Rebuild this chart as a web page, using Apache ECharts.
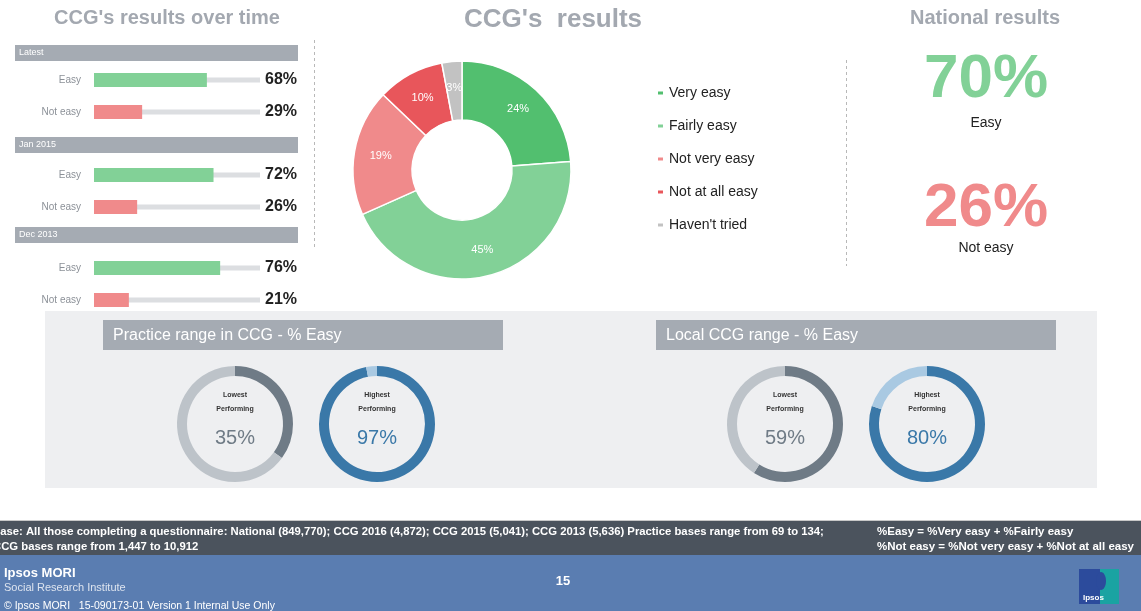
<!DOCTYPE html>
<html>
<head>
<meta charset="utf-8">
<script src="https://cdn.jsdelivr.net/npm/echarts@6/dist/echarts.min.js"></script>
<style>
  html, body { margin: 0; padding: 0; background: #fff; }
  #chart { width: 1141px; height: 611px; }
</style>
</head>
<body>
<div id="chart"></div>
<script>
// ---- data ----
const periods = ['Latest', 'Jan 2015', 'Dec 2013']
const rowLabels = ['Easy', 'Not easy']
const easyOverTime = [68, 72, 76]
const notEasyOverTime = [29, 26, 21]

const answerNames = ['Very easy', 'Fairly easy', 'Not very easy', 'Not at all easy', "Haven't tried"]
const answerValues = [24, 45, 19, 10, 3]

const nationalValues = [70, 26]
const nationalLabels = ['Easy', 'Not easy']

const rangeTitles = ['Practice range in CCG - % Easy', 'Local CCG range - % Easy']
const rangeLowest = [35, 59]
const rangeHighest = [97, 80]

// ---- styles ----
const FONT = 'Liberation Sans, Arial, sans-serif'
const GREEN = '#82d197'
const RED = '#f08a8b'
const answerColors = ['#52bf6f', '#82d197', '#f08a8b', '#e8565b', '#c2c2c2']
const HEADER_GREY = '#a5abb3'
const TITLE_GREY = '#a3a8b0'

const chart = echarts.init(document.getElementById('chart'))

// 左侧：各期结果条形图
const gridTops = [64, 159, 252]
const grids = []
const xAxes = []
const yAxes = []
const series = []

periods.forEach((p, i) => {
  const values = [easyOverTime[i], notEasyOverTime[i]]
  grids.push({ left: 94, width: 166, top: gridTops[i], height: 64 })
  xAxes.push({ gridIndex: i, type: 'value', min: 0, max: 100, show: false })
  yAxes.push({
    gridIndex: i, type: 'category', data: rowLabels, inverse: true,
    axisLine: { show: false }, axisTick: { show: false }, splitLine: { show: false },
    axisLabel: { color: '#8c9198', fontSize: 10, fontFamily: FONT, margin: 13 }
  })
  yAxes.push({ gridIndex: i, type: 'category', data: rowLabels, inverse: true, show: false })
  series.push({
    type: 'bar', xAxisIndex: i, yAxisIndex: i * 2 + 1, silent: true, z: 1,
    data: rowLabels.map(() => 100), barWidth: 5,
    itemStyle: { color: '#dcdee1' },
    label: {
      show: true, position: 'right', distance: 5,
      formatter: (d) => values[d.dataIndex] + '%',
      color: '#222', fontSize: 16, fontWeight: 'bold', fontFamily: FONT
    }
  })
  series.push({
    type: 'bar', xAxisIndex: i, yAxisIndex: i * 2, silent: true, z: 3,
    barWidth: 14,
    data: values.map((v, k) => ({ value: v, itemStyle: { color: k === 0 ? GREEN : RED } }))
  })
})

// 中间：环形图
series.push({
  type: 'pie', name: "CCG's results", center: [462, 170], radius: [50, 109],
  startAngle: 90, clockwise: true, silent: true,
  itemStyle: { borderColor: '#fff', borderWidth: 1.5 },
  label: { show: true, position: 'inside', formatter: '{c}%', color: '#fff', fontSize: 11, fontFamily: FONT },
  labelLine: { show: false },
  data: answerNames.map((n, k) => ({ name: n, value: answerValues[k], itemStyle: { color: answerColors[k] } }))
})

// 底部：范围仪表环
const ringCenters = [[235, 424], [377, 424], [785, 424], [927, 424]]
const ringStyles = {
  low: { title: 'Lowest', dark: '#6f7b86', light: '#bdc3c9' },
  high: { title: 'Highest', dark: '#3a78a8', light: '#a9c9e2' }
}
rangeTitles.forEach((t, r) => {
  [['low', rangeLowest[r]], ['high', rangeHighest[r]]].forEach(([kind, v], k) => {
    const st = ringStyles[kind]
    series.push({
      type: 'pie', center: ringCenters[r * 2 + k], radius: [48, 58],
      startAngle: 90, clockwise: true, silent: true, z: 3,
      labelLine: { show: false },
      data: [
        {
          value: v, itemStyle: { color: st.dark },
          label: {
            show: true, position: 'center',
            formatter: '{a|' + st.title + '}\n{a|Performing}\n{b|' + v + '%}',
            rich: {
              a: { fontSize: 7, fontWeight: 'bold', color: '#333', lineHeight: 14, fontFamily: FONT },
              b: { fontSize: 20, color: st.dark, lineHeight: 44, fontFamily: FONT }
            }
          }
        },
        { value: 100 - v, itemStyle: { color: st.light }, label: { show: false } }
      ]
    })
  })
})

// 装饰与文字
const graphic = []
const txt = (x, y, text, style) => ({
  type: 'text', x, y, silent: true,
  style: Object.assign({ text, fontFamily: FONT, textVerticalAlign: 'middle' }, style)
})

graphic.push(txt(167, 18, "CCG's results over time", { fontSize: 20, fontWeight: 'bold', fill: TITLE_GREY, textAlign: 'center' }))
graphic.push(txt(553, 20, "CCG's  results", { fontSize: 26, fontWeight: 'bold', fill: TITLE_GREY, textAlign: 'center' }))
graphic.push(txt(985, 18, 'National results', { fontSize: 20, fontWeight: 'bold', fill: TITLE_GREY, textAlign: 'center' }))

const headerTops = [45, 137, 227]
periods.forEach((p, i) => {
  graphic.push({ type: 'rect', shape: { x: 15, y: headerTops[i], width: 283, height: 16 }, style: { fill: HEADER_GREY }, silent: true })
  graphic.push(txt(19, headerTops[i] + 8, p, { fontSize: 9, fill: '#fff' }))
})

graphic.push({ type: 'line', shape: { x1: 314.5, y1: 40, x2: 314.5, y2: 248 }, style: { stroke: '#b8b8b8', lineWidth: 1, lineDash: [3, 3] }, silent: true })
graphic.push({ type: 'line', shape: { x1: 846.5, y1: 60, x2: 846.5, y2: 266 }, style: { stroke: '#b8b8b8', lineWidth: 1, lineDash: [3, 3] }, silent: true })

const nationalY = [80, 209]
const nationalLabelY = [123, 248]
const nationalColors = [GREEN, RED]
nationalValues.forEach((v, k) => {
  graphic.push(txt(986, nationalY[k], v + '%', { fontSize: 62, fontWeight: 'bold', fill: nationalColors[k], textAlign: 'center' }))
  graphic.push(txt(986, nationalLabelY[k], nationalLabels[k], { fontSize: 14, fill: '#222', textAlign: 'center' }))
})

// 底部面板
graphic.push({ type: 'rect', shape: { x: 45, y: 311, width: 1052, height: 177 }, style: { fill: '#eeeff1' }, silent: true })
const headerLefts = [103, 656]
rangeTitles.forEach((t, r) => {
  graphic.push({ type: 'rect', shape: { x: headerLefts[r], y: 320, width: 400, height: 30 }, style: { fill: HEADER_GREY }, silent: true })
  graphic.push(txt(headerLefts[r] + 10, 336, t, { fontSize: 16, fill: '#fff' }))
})

// 页脚
graphic.push({ type: 'rect', shape: { x: 0, y: 520, width: 1141, height: 1 }, style: { fill: '#c8c8c8' }, silent: true })
graphic.push({ type: 'rect', shape: { x: 0, y: 521, width: 1141, height: 34 }, style: { fill: '#4b535d' }, silent: true })
graphic.push({ type: 'rect', shape: { x: 0, y: 555, width: 1141, height: 56 }, style: { fill: '#5a7db1' }, silent: true })
graphic.push(txt(-8, 532, 'Base: All those completing a questionnaire: National (849,770); CCG 2016 (4,872); CCG 2015 (5,041); CCG 2013 (5,636) Practice bases range from 69 to 134;', { fontSize: 11.3, fill: '#fff', fontWeight: 'bold' }))
graphic.push(txt(-7, 547, 'CCG bases range from 1,447 to 10,912', { fontSize: 11.3, fill: '#fff', fontWeight: 'bold' }))
graphic.push(txt(877, 532, '%Easy = %Very easy + %Fairly easy', { fontSize: 11.5, fill: '#fff', fontWeight: 'bold' }))
graphic.push(txt(877, 547, '%Not easy = %Not very easy + %Not at all easy', { fontSize: 11.5, fill: '#fff', fontWeight: 'bold' }))
graphic.push(txt(4, 573, 'Ipsos MORI', { fontSize: 13, fill: '#fff', fontWeight: 'bold' }))
graphic.push(txt(4, 588, 'Social Research Institute', { fontSize: 11, fill: '#dde4ef' }))
graphic.push(txt(4, 606, '\u00a9 Ipsos MORI   15-090173-01 Version 1 Internal Use Only', { fontSize: 10.5, fill: '#fff' }))
graphic.push(txt(563, 581, '15', { fontSize: 13, fill: '#fff', fontWeight: 'bold', textAlign: 'center' }))
// logo
graphic.push({ type: 'rect', shape: { x: 1079, y: 569, width: 21, height: 35 }, style: { fill: '#2c4b9c' }, silent: true })
graphic.push({ type: 'rect', shape: { x: 1100, y: 569, width: 19, height: 35 }, style: { fill: '#1aa3a2' }, silent: true })
graphic.push({ type: 'ellipse', shape: { cx: 1101, cy: 581, rx: 5, ry: 9 }, style: { fill: '#2c4b9c' }, silent: true })
graphic.push(txt(1083, 598, 'Ipsos', { fontSize: 8, fill: '#fff', fontWeight: 'bold' }))

chart.setOption({
  animation: false,
  graphic: { elements: graphic },
  legend: {
    orient: 'vertical', left: 651, top: 81, itemWidth: 7, itemHeight: 5, itemGap: 19,
    icon: 'rect', selectedMode: false, data: answerNames,
    textStyle: { fontSize: 14, color: '#222', fontFamily: FONT }
  },
  grid: grids,
  xAxis: xAxes,
  yAxis: yAxes,
  series
})
</script>
</body>
</html>
